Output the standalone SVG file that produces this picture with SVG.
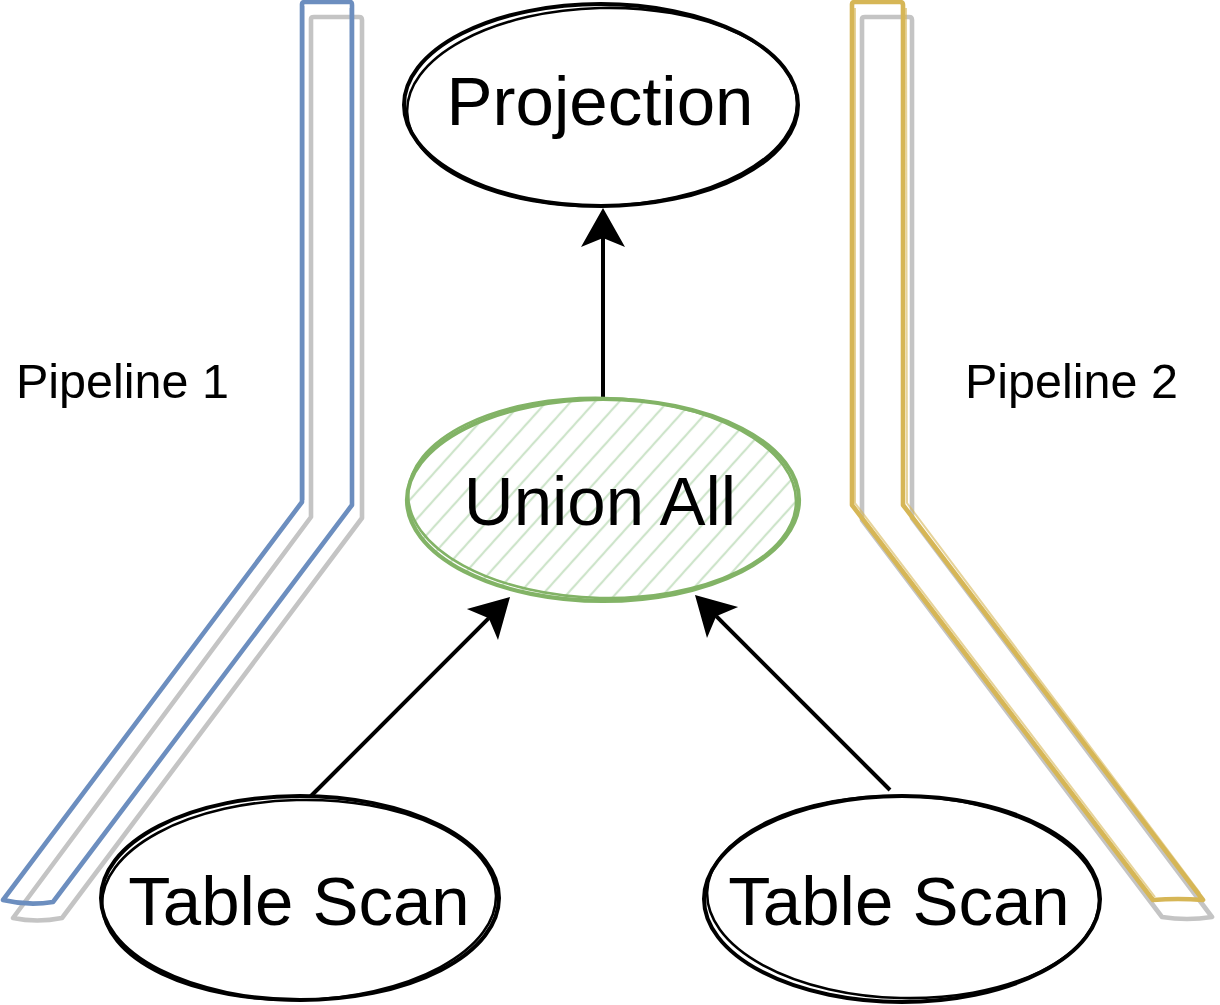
<svg xmlns="http://www.w3.org/2000/svg" width="1220" height="1005" viewBox="0 0 1220 1005">
  <defs>
    <style>
      .lbl { font-family: "Liberation Sans", Arial, Helvetica, sans-serif; fill: #000; }
      .big { font-size: 69px; text-anchor: middle; }
      .small { font-size: 48.5px; }
      .node { fill: #fff; stroke: #000; stroke-width: 4; }
      .node2 { fill: none; stroke: #000; stroke-width: 2.6; }
      .union { fill: url(#hatch); stroke: #82b366; stroke-width: 4.2; }
      .union2 { fill: none; stroke: #82b366; stroke-width: 2.6; }
      .shadow { fill: none; stroke: #c4c4c4; stroke-width: 4.6; stroke-linejoin: round; stroke-linecap: round; }
      .blue { fill: none; stroke: #6c8ebf; stroke-width: 4.6; stroke-linejoin: round; }
      .yellow { fill: none; stroke: #d6b656; stroke-width: 4.6; stroke-linejoin: round; }
      .edge { fill: none; stroke: #000; stroke-width: 4; }
    </style>
    <pattern id="hatch" patternUnits="userSpaceOnUse" width="18" height="18" patternTransform="rotate(42)">
      <rect width="18" height="18" fill="#fff"/>
      <line x1="9" y1="0" x2="9" y2="18" stroke="#cde4ca" stroke-width="2.2"/>
    </pattern>
    <marker id="arrow" viewBox="-10 -23 42 46" refX="0" refY="0" markerWidth="42" markerHeight="46" markerUnits="userSpaceOnUse" orient="auto">
      <path d="M30,0 L-9,-22 L0,0 L-9,22 Z" fill="#000"/>
    </marker>
  </defs>
  <rect width="1220" height="1005" fill="#fff"/>

  <g id="pipeline-1">
    <path class="shadow" d="M311,19 Q311,17 314,17 L359,17 Q362,17 362,20 L362,518 L62,918 Q37,923 13,918 L311,517 Z"/>
    <path class="blue" d="M302,4 Q302,2 305,2 L350,2 Q352,2 352,5 L352,505 L53,902 Q28,906 3,900 L302,502 Z"/>
    <path d="M304,6 L304,500 M350,8 L351,503" stroke="#6c8ebf" stroke-width="1.2" fill="none" opacity="0.5"/>
    <text class="lbl small" x="16" y="398">Pipeline 1</text>
  </g>

  <g id="pipeline-2">
    <path class="shadow" d="M862,19 Q862,17 865,17 L909,17 Q912,17 912,20 L912,518 L1212,917 Q1187,921 1162,917 L862,520 Z"/>
    <path class="yellow" d="M852,4 Q852,2 855,2 L900,2 Q903,2 903,5 L903,505 L1203,900 Q1178,898 1153,900 L852,505 Z"/>
    <path d="M855,8 L855,503 L1155,897 M906,8 L907,503 L1200,893" stroke="#d6b656" stroke-width="2" fill="none" opacity="0.6"/>
    <text class="lbl small" x="965" y="398">Pipeline 2</text>
  </g>

  <g id="connectors">
    <line class="edge" x1="603" y1="400" x2="603" y2="238" marker-end="url(#arrow)"/>
    <line class="edge" x1="310" y1="797" x2="488.8" y2="618.2" marker-end="url(#arrow)"/>
    <line class="edge" x1="890" y1="790" x2="716.2" y2="616.2" marker-end="url(#arrow)"/>
  </g>

  <g id="projection">
    <ellipse class="node" cx="601" cy="105" rx="197" ry="101"/>
    <ellipse class="node2" cx="602" cy="107" rx="195" ry="99" transform="rotate(-1.5 601 105)"/>
    <text class="lbl big" x="600" y="125">Projection</text>
  </g>

  <g id="union-all">
    <ellipse class="union" cx="603" cy="500" rx="196" ry="101"/>
    <ellipse class="union2" cx="602" cy="498" rx="194" ry="100" transform="rotate(1.3 603 500)"/>
    <text class="lbl big" x="600" y="525">Union All</text>
  </g>

  <g id="table-scan-1">
    <ellipse class="node" cx="300" cy="898" rx="199" ry="102"/>
    <ellipse class="node2" cx="299" cy="900" rx="197" ry="100" transform="rotate(-1.4 300 898)"/>
    <text class="lbl big" x="299" y="925">Table Scan</text>
  </g>

  <g id="table-scan-2">
    <ellipse class="node" cx="902" cy="899" rx="198" ry="103"/>
    <ellipse class="node2" cx="903" cy="897" rx="196" ry="101" transform="rotate(1.4 902 899)"/>
    <text class="lbl big" x="899" y="925">Table Scan</text>
  </g>
</svg>
